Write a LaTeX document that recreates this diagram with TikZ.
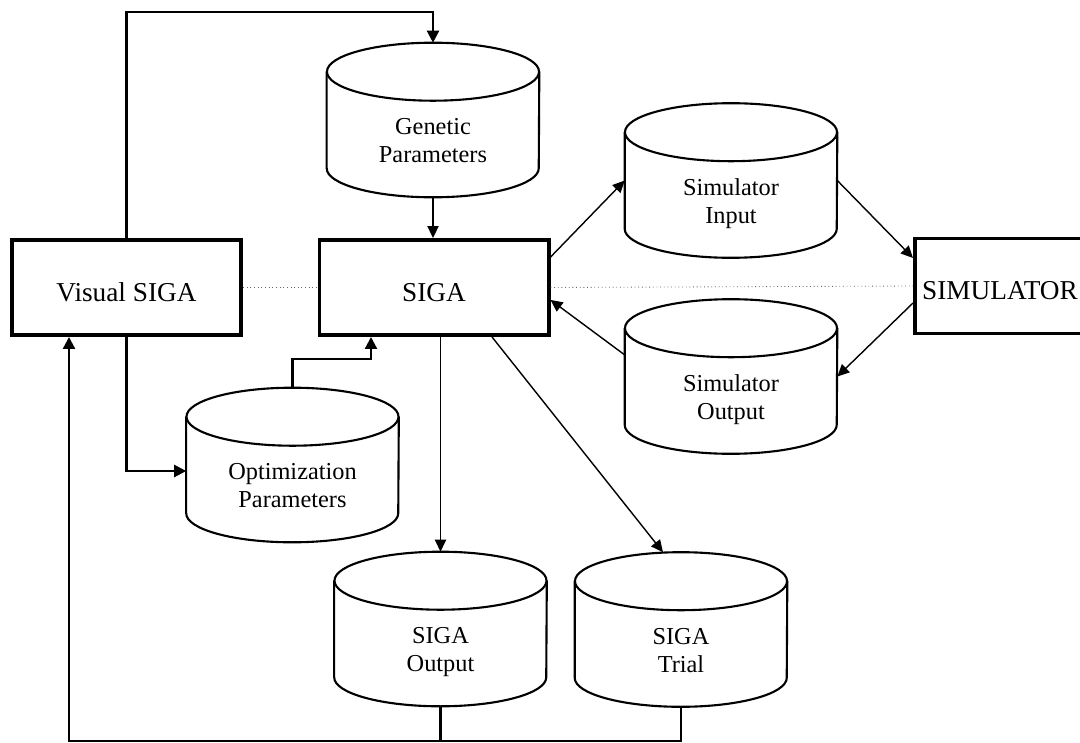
\documentclass[tikz,border=0pt]{standalone}
\usepackage{fontspec}
\setmainfont{Liberation Serif}
\usetikzlibrary{arrows.meta}
\tikzset{
  unit/.style={draw=black, line width=2.8pt, minimum width=5.725cm, minimum height=2.375cm, inner sep=0pt, font=\fontsize{19.4}{22}\selectfont, text height=0.69cm, text depth=0pt},
  store/.style={minimum width=5.3cm, minimum height=3.85cm, inner sep=0pt},
  storetext/.style={align=center, inner sep=0pt, font=\fontsize{17.3}{19.9}\selectfont},
  drumline/.style={line width=1.5pt, draw=black},
  flow/.style={line width=1pt, -{Triangle[length=0.3cm, width=0.28cm]}},
  loopline/.style={line width=1.6pt},
  looparrow/.style={line width=1.6pt, -{Triangle[length=0.3cm, width=0.3cm]}},
  dotlink/.style={line width=0.6pt, draw=black!60, dotted},
}
% cylinder outline round an empty store node
\newcommand\dbdrum[1]{%
  \draw[drumline] ([yshift=-0.725cm]#1.north) ellipse [x radius=2.65cm, y radius=0.725cm];
  \draw[drumline] ([yshift=-0.725cm]#1.north west) -- ([yshift=0.725cm]#1.south west)
    arc [start angle=180, end angle=360, x radius=2.65cm, y radius=0.725cm]
    -- ([yshift=-0.725cm]#1.north east);
}

\begin{document}
\begin{tikzpicture}[x=0.025cm, y=-0.025cm]
\useasboundingbox (0,0) rectangle (1080,743);
% processes
\node[unit] (vis) at (126.5,287.5) {Visual SIGA};
\node[unit] (siga) at (434,287.5) {SIGA};
\node[unit, minimum width=4.25cm] (sim) at (1000,286) {SIMULATOR};
% data stores
\node[store] (gen) at (433,120) {};
\node[store] (sin) at (731,180.5) {};
\node[store] (sout) at (731,376.5) {};
\node[store] (opt) at (292.5,465) {};
\node[store] (out) at (440.5,629) {};
\node[store] (trial) at (681,629.5) {};
\foreach \s in {gen,sin,sout,opt,out,trial} {\dbdrum{\s}}
\node[storetext] (gentxt) at ([yshift=-0.62cm]gen.center) {Genetic\\Parameters\strut};
\node[storetext] (sintxt) at ([yshift=-0.62cm]sin.center) {Simulator\\Input\strut};
\node[storetext] (souttxt) at ([yshift=-0.62cm]sout.center) {Simulator\\Output\strut};
\node[storetext] (opttxt) at ([yshift=-0.62cm]opt.center) {Optimization\\Parameters\strut};
\node[storetext] (outtxt) at ([yshift=-0.62cm]out.center) {SIGA\\Output\strut};
\node[storetext] (trialtxt) at ([yshift=-0.62cm]trial.center) {SIGA\\Trial\strut};
% bends
\coordinate (topbend) at (433,12);
\coordinate (optbend) at (371,359);
\coordinate (botbend) at (69,741);
% links
\draw[dotlink] (vis.east) -- (siga.west);
\draw[dotlink] (siga.east) -- (sim.west);
\draw[looparrow] (vis.north) |- (topbend) -- (gen.north);
\draw[flow] (gen.south) -- (gen.south |- siga.north);
\draw[flow] ([yshift=0.76cm]siga.east) -- (sin.west);
\draw[flow] (sin.east) -- ([yshift=0.7cm]sim.west);
\draw[flow] ([yshift=-0.425cm]sim.west) -- (sout.east);
\draw[flow] ([yshift=0.54cm]sout.west) -- ([yshift=-0.31cm]siga.east);
\draw[looparrow] (vis.south) |- ([yshift=-0.15cm]opt.west);
\draw[looparrow] (opt.north) |- (optbend) -- (optbend |- siga.south);
\draw[flow] (out.north |- siga.south) -- (out.north);
\draw[flow] ([xshift=1.45cm]siga.south) -- ([xshift=-0.45cm]trial.north);
\draw[loopline] (out.south) -- (out.south |- botbend);
\draw[looparrow] (trial.south) -- (trial.south |- botbend) -- (botbend) -- (botbend |- vis.south);
\end{tikzpicture}
\end{document}
